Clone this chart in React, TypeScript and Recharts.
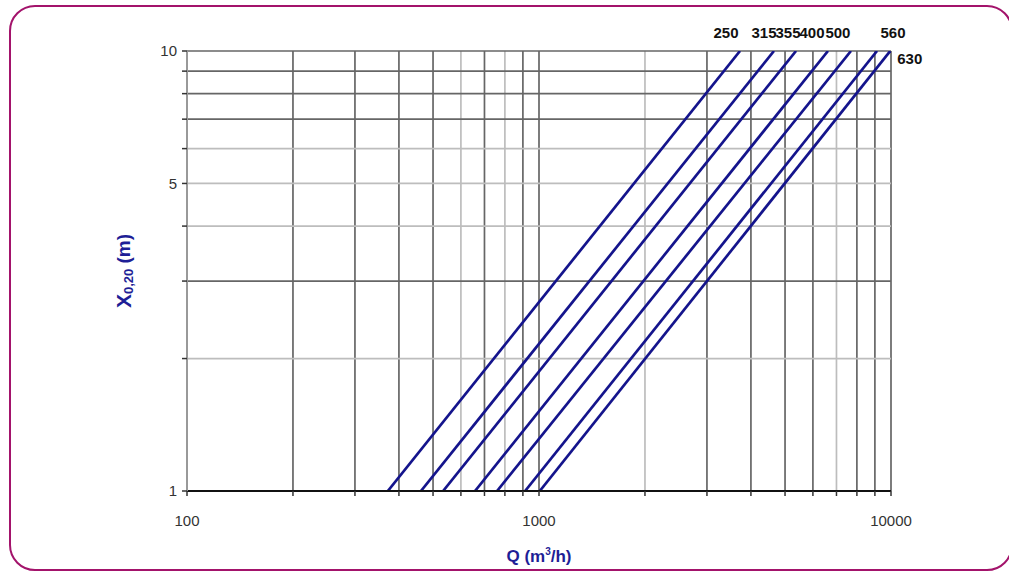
import {
  LineChart,
  Line,
  XAxis,
  YAxis,
  ReferenceLine,
  Label,
} from 'recharts';

// diameters of the ducts, one line each
const sizes = ['250', '315', '355', '400', '500', '560', '630'];
// Q (m3/h) where each line crosses X = 1 m and X = 10 m
const qAtOne = [372, 462, 534, 658, 760, 913, 1005];
const qAtTen = [3724, 4651, 5373, 6622, 7696, 9125, 9950];
const xEnds = [1, 10];

const xTicks = [100, 200, 300, 400, 500, 600, 700, 800, 900, 1000, 2000, 3000, 4000, 5000, 6000, 7000, 8000, 9000, 10000];
const xLabels = [100, 1000, 10000];
const yTicks = [1, 2, 3, 4, 5, 6, 7, 8, 9, 10];
const yLabels = [1, 5, 10];

const xGrid = [200, 300, 400, 500, 600, 700, 800, 900, 1000, 2000, 3000, 4000, 5000, 6000, 7000, 8000, 9000, 10000];
const yGrid = [2, 3, 4, 5, 6, 7, 8, 9, 10];
const lightX = [600, 800, 2000, 7000];
const lightY = [2, 4, 5, 6];

const LINE = '#14148c';
const TITLE = '#1e1e96';
const FONT = '"Liberation Sans", Arial, sans-serif';

// label placement next to the upper end of each line
const labelPos = [
  { dx: -14, dy: -19, anchor: 'middle' },
  { dx: -10, dy: -19, anchor: 'middle' },
  { dx: -8, dy: -19, anchor: 'middle' },
  { dx: -16, dy: -19, anchor: 'middle' },
  { dx: -13, dy: -19, anchor: 'middle' },
  { dx: 16, dy: -19, anchor: 'middle' },
  { dx: 7, dy: 7, anchor: 'start' },
];

const series = sizes.map((name, i) => ({
  name,
  data: xEnds.map((x, j) => ({ q: j === 0 ? qAtOne[i] : qAtTen[i], x })),
}));

function YTitle({ viewBox }: any) {
  const cx = viewBox.x - 4;
  const cy = 271;
  return (
    <text
      x={cx}
      y={cy}
      transform={`rotate(-90, ${cx}, ${cy})`}
      textAnchor="middle"
      dominantBaseline="central"
      fill={TITLE}
      fontFamily={FONT}
      fontWeight="bold"
    >
      <tspan fontSize={21}>X</tspan>
      <tspan fontSize={13} dy={5}>0,20</tspan>
      <tspan fontSize={19} dy={-5}> (m)</tspan>
    </text>
  );
}

function XTitle({ viewBox }: any) {
  const cx = viewBox.x + viewBox.width / 2;
  return (
    <text x={cx} y={562} textAnchor="middle" fill={TITLE} fontFamily={FONT} fontWeight="bold" fontSize={17}>
      <tspan>Q (m</tspan>
      <tspan fontSize={10} dy={-7}>3</tspan>
      <tspan dy={7}>/h)</tspan>
    </text>
  );
}

export default function App() {
  return (
    <div style={{ position: 'absolute', left: 0, top: 0, width: 1009, height: 572, overflow: 'hidden', background: '#fff' }}>
      <div
        style={{
          position: 'absolute',
          left: 9,
          top: 5,
          width: 1000,
          height: 562,
          border: '2.5px solid #a3136b',
          borderRadius: 26,
        }}
      />
      <div style={{ position: 'absolute', left: 0, top: 0 }}>
        <LineChart width={1009} height={572} margin={{ top: 51, right: 118, bottom: 51, left: 127 }}>
          <XAxis
            dataKey="q"
            type="number"
            scale="log"
            domain={[100, 10000]}
            allowDataOverflow
            ticks={xTicks}
            interval={0}
            tickFormatter={(v: number) => (xLabels.includes(v) ? String(v) : '')}
            height={30}
            tickSize={5}
            tickMargin={19}
            stroke="#111"
            strokeWidth={2}
            tickLine={{ stroke: '#333', strokeWidth: 1.5 }}
            tick={{ fill: '#333', fontSize: 15, fontFamily: FONT }}
          >
            <Label content={<XTitle />} />
          </XAxis>
          <YAxis
            dataKey="x"
            type="number"
            scale="log"
            domain={[1, 10]}
            allowDataOverflow
            ticks={yTicks}
            interval={0}
            tickFormatter={(v: number) => (yLabels.includes(v) ? String(v) : '')}
            width={60}
            tickSize={5}
            tickMargin={5}
            stroke="#999"
            strokeWidth={2}
            tickLine={{ stroke: '#333', strokeWidth: 1.5 }}
            tick={{ fill: '#333', fontSize: 15, fontFamily: FONT }}
          >
            <Label content={<YTitle />} />
          </YAxis>
          {xGrid.map((v) => (
            <ReferenceLine
              key={'gx' + v}
              x={v}
              stroke={lightX.includes(v) ? '#bdbdbd' : '#666'}
              strokeWidth={1.7}
            />
          ))}
          {yGrid.map((v) => (
            <ReferenceLine
              key={'gy' + v}
              y={v}
              stroke={lightY.includes(v) ? '#bdbdbd' : '#666'}
              strokeWidth={1.7}
            />
          ))}
          {series.map((s, i) => (
            <Line
              key={s.name}
              data={s.data}
              dataKey="x"
              name={s.name}
              stroke={LINE}
              strokeWidth={2.7}
              dot={false}
              activeDot={false}
              isAnimationActive={false}
              label={(p: any) =>
                p.index === 1 ? (
                  <text
                    key={s.name + 'lbl'}
                    x={p.x + labelPos[i].dx}
                    y={p.y + labelPos[i].dy}
                    textAnchor={labelPos[i].anchor}
                    dominantBaseline="central"
                    fontFamily={FONT}
                    fontWeight="bold"
                    fontSize={15}
                    fill="#111"
                  >
                    {s.name}
                  </text>
                ) : (
                  <g key={s.name + 'lbl' + p.index} />
                )
              }
            />
          ))}
        </LineChart>
      </div>
    </div>
  );
}
